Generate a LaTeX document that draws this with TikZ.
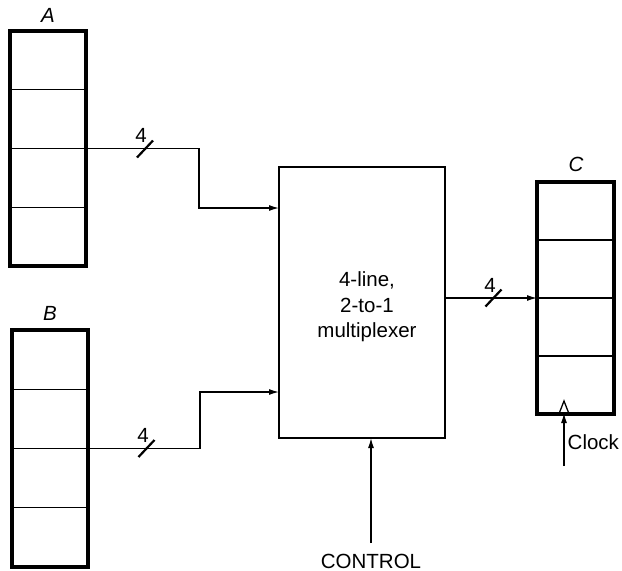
\documentclass[tikz,border=0pt]{standalone}
\usepackage{fontspec}
\setmainfont{Liberation Sans}
\usetikzlibrary{arrows.meta,calc}
\tikzset{
  regbox/.style={draw, line width=3.4pt, inner sep=0pt, outer sep=0pt, minimum width=#1},
  muxbox/.style={draw, line width=2.3pt, inner sep=0pt, outer sep=0pt, minimum width=166pt, minimum height=271pt},
  wire/.style={line width=1.3pt},
  arr/.style={wire, -{Latex[length=10pt,width=6pt]}},
  cell/.style={line width=1.3pt},
  busmark/.style={line width=2.2pt},
  lbl/.style={font=\fontsize{20.5}{24}\selectfont, inner sep=0pt},
  reglbl/.style={font=\fontsize{20.5}{24}\selectfont\itshape, inner sep=0pt}
}
\begin{document}
\begin{tikzpicture}[x=1pt,y=-1pt]
\useasboundingbox (0,0) rectangle (622,571);
% registers
\node[regbox=76pt, minimum height=235pt] (A) at (48,148.5) {};
\node[regbox=76pt, minimum height=237pt] (B) at (50,448.5) {};
\node[regbox=77pt, minimum height=232pt] (C) at (575.5,298) {};
\node[muxbox] (M) at (362,302.5) {};
\node[font=\fontsize{20.5}{25.5}\selectfont, align=center, inner sep=0pt] (Mt) at (367,307) {4-line,\\2-to-1\\multiplexer};
% cell dividers
\foreach \r in {A,B,C}{
  \foreach \f in {0.25,0.5,0.75}{
    \draw[cell] ($(\r.north west)!\f!(\r.south west)$) -- ($(\r.north east)!\f!(\r.south east)$);
  }
}
% labels
\node[reglbl] (la) at (48,15) {A};
\node[reglbl] (lb) at (50,313) {B};
\node[reglbl] (lc) at (576,164) {C};
% A -> mux
\coordinate (a1) at (199,148.5);
\coordinate (a2) at (199,208);
\coordinate (ma) at (M.west |- a2);
\draw[arr] (A.east) -- (a1) -- (a2) -- (ma);
\draw[busmark] (137,157.5) -- (153,140.5);
\node[lbl] (n1) at (141,135) {4};
% B -> mux
\coordinate (b1) at (200,448.5);
\coordinate (b2) at (200,392);
\coordinate (mb) at (M.west |- b2);
\draw[arr] (B.east) -- (b1) -- (b2) -- (mb);
\draw[busmark] (138.5,457) -- (154.5,440);
\node[lbl] (n2) at (143,435) {4};
% mux -> C
\coordinate (mo) at (M.east |- C.west);
\draw[arr] (mo) -- (C.west);
\draw[busmark] (485.5,306.5) -- (501.5,289.5);
\node[lbl] (n3) at (490,285) {4};
% control
\node[lbl] (ctl) at (371,561) {CONTROL};
\coordinate (c0) at (371,543);
\draw[arr] (c0) -- (c0 |- M.south);
% clock
\coordinate (k0) at (564,466);
\coordinate (kb) at (564,413);
\draw[arr] (k0) -- (kb);
\draw[line width=1.3pt, line join=miter] (559.5,412.5) -- (564,401) -- (568.5,412.5);
\node[lbl, anchor=west] (clk) at (567.5,442) {Clock};
\end{tikzpicture}
\end{document}
